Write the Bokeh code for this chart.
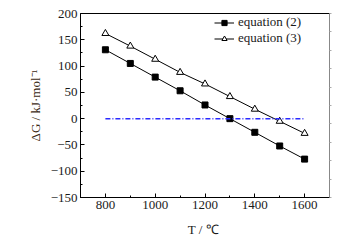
from bokeh.plotting import figure
from bokeh.models import (ColumnDataSource, LinearAxis, FixedTicker, Range1d,
                          Legend, LegendItem)
from bokeh.embed import file_html
from bokeh.resources import INLINE

temps = [800, 900, 1000, 1100, 1200, 1300, 1400, 1500, 1600]
eq2 = [131, 105, 79, 53, 26, 0, -26, -52, -77]
eq3 = [162, 138, 113, 88, 66, 42, 18, -5, -28]
zero_x = [800, 1600]
zero_y = [0, 0]
x_ticks = [800, 1000, 1200, 1400, 1600]
y_ticks = [-150, -100, -50, 0, 50, 100, 150, 200]
series_names = ["equation (2)", "equation (3)"]
x_title = "T /  \u2103"
y_title = "\u0394G / kJ\u00b7mol\u207b\u00b9"

FONT = "'Liberation Serif', 'Times New Roman', serif"
TXT = "#1a1a1a"

p = figure(width=361, height=246, output_backend="svg", toolbar_location=None,
           x_range=Range1d(700, 1700), y_range=Range1d(-150, 200),
           min_border_left=80, min_border_right=32, min_border_top=13,
           min_border_bottom=49)
p.grid.visible = False
p.outline_line_color = "black"
p.outline_line_width = 1
p.background_fill_color = "white"
p.border_fill_color = "white"

p.xaxis[0].ticker = FixedTicker(ticks=x_ticks, minor_ticks=[700, 900, 1100, 1300, 1500, 1700])
p.yaxis[0].ticker = FixedTicker(ticks=y_ticks,
                                minor_ticks=[-125, -75, -25, 25, 75, 125, 175])
for ax in (p.xaxis[0], p.yaxis[0]):
    ax.major_tick_in = 4
    ax.major_tick_out = 0
    ax.minor_tick_in = 2
    ax.minor_tick_out = 0
    ax.axis_line_color = "black"
    ax.major_tick_line_color = "black"
    ax.minor_tick_line_color = "black"
    ax.major_label_text_font = FONT
    ax.major_label_text_font_size = "13px"
    ax.major_label_text_color = TXT
    ax.major_label_standoff = 3
    ax.axis_label_text_font = FONT
    ax.axis_label_text_font_size = "13px"
    ax.axis_label_text_font_style = "normal"

p.xaxis[0].axis_label = x_title
p.xaxis[0].axis_label_text_color = TXT
p.xaxis[0].axis_label_standoff = 10
p.yaxis[0].axis_label = y_title
p.yaxis[0].axis_label_text_color = "#3b2a14"
p.yaxis[0].axis_label_standoff = 5

# right axis: grey, no labels, small outward ticks
right = LinearAxis(ticker=FixedTicker(ticks=[200, 165, 130, 95, 60, 25, -10, -45, -80, -115, -150]))
right.axis_line_color = "#888888"
right.major_tick_line_color = "#aaaaaa"
right.major_tick_in = 0
right.major_tick_out = 2
right.minor_tick_line_color = None
right.major_label_text_font_size = "0px"
right.major_label_text_color = None
p.add_layout(right, "right")

src = ColumnDataSource(dict(t=temps, e2=eq2, e3=eq3))
l2 = p.line("t", "e2", source=src, line_color="black", line_width=1)
m2 = p.scatter("t", "e2", source=src, marker="square", size=6,
               fill_color="black", line_color="black")
l3 = p.line("t", "e3", source=src, line_color="black", line_width=1)
m3 = p.scatter("t", "e3", source=src, marker="triangle", size=7,
               fill_color="white", line_color="black", line_width=1)

p.line(zero_x, zero_y, line_color="#2a2aff", line_width=1.5, line_dash="5 2 1 2")

legend = Legend(items=[LegendItem(label=series_names[0], renderers=[l2, m2]),
                       LegendItem(label=series_names[1], renderers=[l3, m3])],
                location=(134, 151), border_line_color=None,
                background_fill_alpha=0, padding=0, margin=0, spacing=0,
                glyph_width=20, glyph_height=13, label_height=13,
                label_standoff=4, label_text_font=FONT,
                label_text_font_size="13px", label_text_color=TXT)
p.add_layout(legend, "center")

open("out.html", "w").write(file_html(p, INLINE))
